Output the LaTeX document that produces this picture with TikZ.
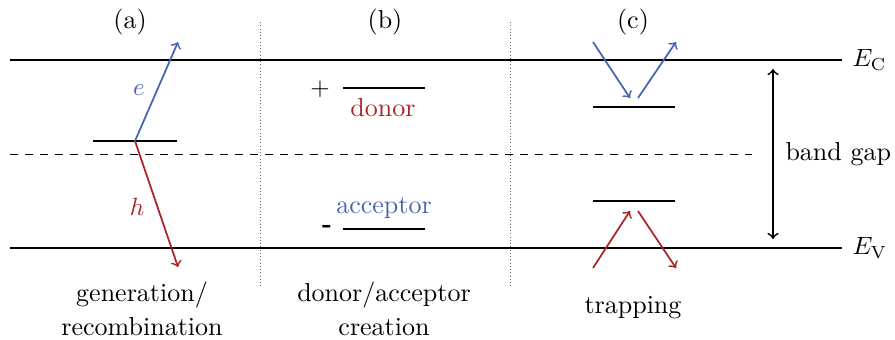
\documentclass[tikz,border=0pt]{standalone}
\usetikzlibrary{arrows}
\definecolor{eblue}{RGB}{70,100,175}
\definecolor{hred}{RGB}{170,35,40}
\begin{document}
\begin{tikzpicture}[x=0.4pt,y=-0.4pt,
  band/.style={line width=0.9pt},
  level/.style={line width=0.8pt},
  earrow/.style={eblue,line width=0.7pt,->},
  harrow/.style={hred,line width=0.7pt,->},
  sep/.style={densely dotted,line width=0.3pt,gray!80!black},
  lbl/.style={inner sep=0pt,align=center,font=\fontsize{10.4}{13.5}\selectfont}]
\useasboundingbox (0,0) rectangle (895,340);
% bands
\coordinate (ecl) at (10,60); \coordinate (ecr) at (842,60);
\coordinate (evl) at (10,248); \coordinate (evr) at (842,248);
\draw[band] (ecl) -- (ecr);
\draw[band] (evl) -- (evr);
\coordinate (dl) at (10,154); \coordinate (dr) at (752,154);
\draw[dashed,line width=0.4pt] (dl) -- (dr);
\node[lbl,anchor=west] (EC) at (852,60) {$E_{\mathrm{C}}$};
\node[lbl,anchor=west] (EV) at (852,248) {$E_{\mathrm{V}}$};
% separators
\coordinate (s1t) at (260,22); \coordinate (s1b) at (260,286);
\coordinate (s2t) at (510,22); \coordinate (s2b) at (510,286);
\draw[sep] (s1t) -- (s1b);
\draw[sep] (s2t) -- (s2b);
% headers
\node[lbl] (ha) at (130,22) {(a)};
\node[lbl] (hb) at (385,22) {(b)};
\node[lbl] (hc) at (633,22) {(c)};
% (a)
\coordinate (la1) at (93,141); \coordinate (la2) at (177,141);
\draw[level] (la1) -- (la2);
\coordinate (ao) at (135,141);
\coordinate (ae) at (178,42);
\coordinate (ah) at (178,267);
\draw[earrow] (ao) -- (ae);
\draw[harrow] (ao) -- (ah);
\node[lbl,eblue] (e) at (139,90) {$e$};
\node[lbl,hred] (h) at (137,207) {$h$};
% (b)
\coordinate (d1) at (343,88); \coordinate (d2) at (425,88);
\draw[level] (d1) -- (d2);
\node[lbl] (plus) at (320,89) {$+$};
\node[lbl,hred] (donor) at (383,108) {donor};
\coordinate (a1) at (343,229); \coordinate (a2) at (425,229);
\draw[level] (a1) -- (a2);
\node[lbl] (minus) at (327,229) {\textbf{-}};
\node[lbl,eblue] (acc) at (384,208) {acceptor};
% (c)
\coordinate (t1) at (593,107); \coordinate (t2) at (675,107);
\draw[level] (t1) -- (t2);
\coordinate (u1) at (593,201); \coordinate (u2) at (675,201);
\draw[level] (u1) -- (u2);
\coordinate (c1) at (593,42); \coordinate (c2) at (630,98);
\coordinate (c3) at (638,98); \coordinate (c4) at (676,42);
\draw[earrow] (c1) -- (c2);
\draw[earrow] (c3) -- (c4);
\coordinate (r1) at (593,268); \coordinate (r2) at (630,211);
\coordinate (r3) at (638,211); \coordinate (r4) at (676,268);
\draw[harrow] (r1) -- (r2);
\draw[harrow] (r3) -- (r4);
% band gap
\coordinate (g1) at (773,69); \coordinate (g2) at (773,239);
\draw[<->,line width=0.7pt] (g1) -- (g2);
\node[lbl,anchor=west] (gap) at (785,154) {band gap};
% bottom labels
\node[lbl] (la) at (142,309) {generation/\\recombination};
\node[lbl] (lb) at (384,309) {donor/acceptor\\creation};
\node[lbl] (lc) at (633,308) {trapping};
\end{tikzpicture}
\end{document}
